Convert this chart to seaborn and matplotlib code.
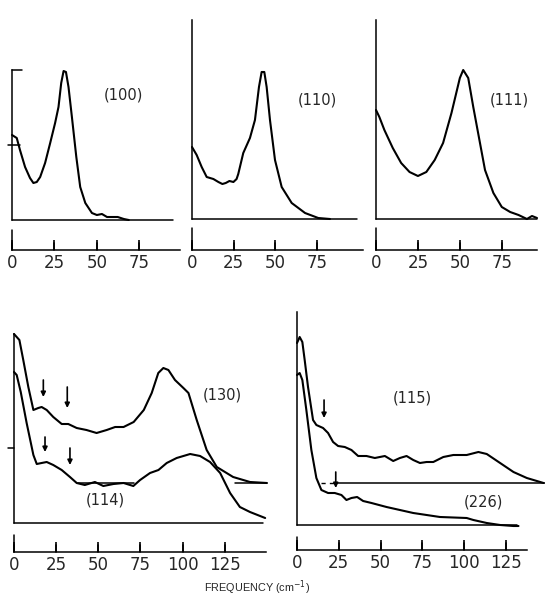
import matplotlib
matplotlib.use("Agg")
import matplotlib.pyplot as plt
import seaborn as sns
import pandas as pd
import numpy as np

sns.set_style("ticks")
plt.rcParams['font.family'] = ['DejaVu Sans']

# intensity values are in arbitrary units (0 = baseline of each panel)
f100 = [0, 2.8, 4.7, 7.7, 10.6, 12.6, 14.6, 16.6, 19.5, 22.5, 25.4, 27.4, 29, 30.4, 31.8,
        33.3, 35.3, 37.9, 40.2, 43.2, 47.1, 50, 53, 56, 60, 62.3, 65.9, 68.8]
i100 = [85, 82, 70, 53, 42, 37, 38, 43, 57, 77, 97, 113, 137, 149, 148,
        133, 103, 63, 33, 17, 7, 5, 6, 3, 3, 3, 1, 0]

f110 = [0, 2.8, 5.8, 8.8, 12.8, 15.8, 18.2, 20.2, 22.4, 24.8, 26.7, 27.7, 30.7, 34.7, 37.7,
        40.1, 41.7, 43.3, 44.7, 46.7, 49.7, 53.7, 59.7, 67.7, 75.6, 82.6]
i110 = [72, 64, 52, 42, 40, 37, 35, 36, 38, 37, 40, 45, 66, 81, 99,
        132, 147, 147, 132, 99, 59, 32, 16, 6, 1, 0]

f111 = [0, 2, 5, 10, 15, 20, 25, 30, 35, 40, 45, 50, 52, 55, 58, 62, 65, 70, 75, 80, 85, 90, 93, 96]
i111 = [109, 102, 89, 71, 56, 47, 43, 47, 59, 76, 106, 141, 149, 141, 112, 76, 49, 26, 12, 7, 4, 0, 3, 1]

f130 = [0, 3.2, 5.5, 8.5, 11.5, 14.4, 16.4, 19.4, 23.3, 28.3, 32.2, 37.2, 43, 49, 55, 60, 65,
        71, 77, 81.7, 85.6, 88.6, 91.6, 95.5, 100.5, 103.5, 108.4, 114.3, 120.3, 130, 140, 150]
i130 = [189, 183, 163, 136, 113, 115, 116, 113, 106, 99, 99, 95, 93, 90, 93, 96, 96,
        101, 113, 130, 150, 155, 153, 143, 135, 130, 103, 73, 56, 46, 41, 40]

f114 = [0, 1.6, 4, 7.5, 11.5, 13.5, 16.4, 19.4, 23.3, 28.3, 33.2, 37.2, 42, 48, 53, 59, 65,
        70.8, 74.8, 80.7, 85.7, 90.6, 96.5, 104.5, 110.4, 116.3, 122.3, 128.2, 134, 140, 149]
i114 = [151, 148, 131, 100, 68, 59, 60, 61, 58, 53, 46, 40, 38, 41, 37, 39, 40,
        37, 43, 50, 53, 60, 65, 69, 67, 61, 50, 30, 16, 11, 5]

f115 = [0, 1.6, 3.2, 4.6, 6.6, 9.6, 11.6, 15.6, 18.6, 21.6, 24.6, 28.6, 32.6, 36.6, 41.6,
        46.6, 52.6, 57.6, 61.6, 65.6, 69.6, 73.6, 77.6, 81.6, 87.6, 93.6, 101.6, 108.6,
        113.6, 121.6, 129.6, 137.6, 147.6]
i115 = [182, 188, 183, 165, 138, 105, 100, 97, 92, 83, 79, 78, 75, 69, 69,
        67, 69, 64, 67, 69, 65, 62, 63, 63, 68, 70, 70, 73,
        71, 62, 53, 47, 42]

f226 = [0, 1.6, 3.2, 5.6, 8.6, 11.6, 14.6, 18.6, 22.6, 26.6, 29.6, 32.6, 36, 39.6, 44.6,
        53.6, 69.6, 85.6, 101.6, 105.6, 113.6, 121.6, 129.6, 132.6]
i226 = [150, 152, 145, 115, 75, 47, 35, 32, 32, 30, 25, 27, 28, 24, 22,
        18, 12, 8, 7, 5, 2, 0, -1, -1]

ticks_small = [0, 25, 50, 75]
ticks_wide = [0, 25, 50, 75, 100, 125]

fig = plt.figure(figsize=(5.45, 6.02), dpi=100)
W, H = 545, 602


def make_ax(left, right, top, bottom, xmax, ylo, yhi, ticks):
    ax = fig.add_axes([left / W, 1 - bottom / H, (right - left) / W, (bottom - top) / H])
    ax.set_facecolor('none')
    ax.set_xlim(0, xmax)
    ax.set_ylim(ylo, yhi)
    sns.despine(ax=ax)
    for s in ['left', 'bottom']:
        ax.spines[s].set_linewidth(1.1)
        ax.spines[s].set_color('black')
    ax.set_xticks(ticks)
    ax.set_yticks([])
    ax.tick_params(axis='x', which='major', bottom=True, direction='in', length=7, width=1.2,
                   color='black', pad=3, labelsize=12)
    # short upward tick marks on the scale bar
    for t in ticks:
        ax.plot([t, t], [ylo, ylo + 7], color='black', lw=1.2, clip_on=False, zorder=10)
    return ax


def curve(ax, f, i):
    sns.lineplot(x=f, y=i, ax=ax, sort=False, estimator=None, color='black', lw=1.5, clip_on=False)


def arrow(ax, x, y0, y1):
    ax.annotate('', xy=(x, y1), xytext=(x, y0),
                arrowprops=dict(arrowstyle='-|>', color='black', lw=1.2, mutation_scale=7,
                                shrinkA=0, shrinkB=0))


kw = dict(color='black', lw=1.1, clip_on=False)

# (100)
ax1 = make_ax(12, 180, 20, 250, 99, -30, 200, ticks_small)
curve(ax1, f100, i100)
ax1.spines['left'].set_bounds(0, 150)
ax1.plot([0, 95], [0, 0], **kw)
ax1.plot([0, 0], [-30, -10], **kw)
ax1.plot([-2.4, 4.7], [75, 75], **kw)
ax1.plot([0, 5.9], [150, 150], **kw)
ax1.text(53.8, 125, '(100)', fontsize=10.5, ha='left', va='center')

# (110)
ax2 = make_ax(192, 363, 20, 250, 102.4, -31, 199, ticks_small)
curve(ax2, f110, i110)
ax2.spines['left'].set_bounds(0, 199)
ax2.plot([0, 99], [0, 0], **kw)
ax2.plot([0, 0], [-31, -9], **kw)
ax2.text(63.5, 119, '(110)', fontsize=10.5, ha='left', va='center')

# (111)
ax3 = make_ax(376, 537, 20, 250, 96, -31, 199, ticks_small)
curve(ax3, f111, i111)
ax3.spines['left'].set_bounds(0, 199)
ax3.plot([0, 96], [0, 0], **kw)
ax3.plot([0, 0], [-31, -9], **kw)
ax3.text(67.9, 119, '(111)', fontsize=10.5, ha='left', va='center')

# (130) and (114)
ax4 = make_ax(14, 266, 320, 552, 149.5, -29, 203, ticks_wide)
curve(ax4, f130, i130)
curve(ax4, f114, i114)
ax4.spines['left'].set_bounds(0, 189)
ax4.plot([0, 147.8], [0, 0], **kw)
ax4.plot([0, 0], [-29, -12], **kw)
ax4.plot([38, 71], [40, 40], **kw)
ax4.plot([131, 150], [40, 40], **kw)
ax4.plot([-3.6, 0], [75, 75], **kw)
arrow(ax4, 17.4, 143, 126)
arrow(ax4, 31.6, 136, 115)
arrow(ax4, 18.4, 86, 71)
arrow(ax4, 33.2, 75, 58)
ax4.text(123.4, 128, '(130)', fontsize=10.5, ha='center', va='center')
ax4.text(54, 23, '(114)', fontsize=10.5, ha='center', va='center')

# (115) and (226)
ax5 = make_ax(297, 527, 310, 550, 137.7, -25, 215, ticks_wide)
curve(ax5, f115, i115)
curve(ax5, f226, i226)
ax5.spines['left'].set_bounds(0, 213)
ax5.plot([0, 132], [0, 0], **kw)
ax5.plot([0, 0], [-25, -12], **kw)
ax5.plot([14.6, 22], [42, 42], color='black', lw=1.0, ls=(0, (3, 3)), clip_on=False)
ax5.plot([23, 148.6], [42, 42], **kw)
arrow(ax5, 16.2, 125, 107)
arrow(ax5, 23.2, 53, 37)
ax5.text(68.9, 127, '(115)', fontsize=10.5, ha='center', va='center')
ax5.text(111.4, 23, '(226)', fontsize=10.5, ha='center', va='center')

fig.text(257 / W, 1 - 588 / H, 'FREQUENCY (cm$^{-1}$)', fontsize=7.8, ha='center', va='center',
         family=['Liberation Sans'])

fig.savefig('out.png', dpi=100)
